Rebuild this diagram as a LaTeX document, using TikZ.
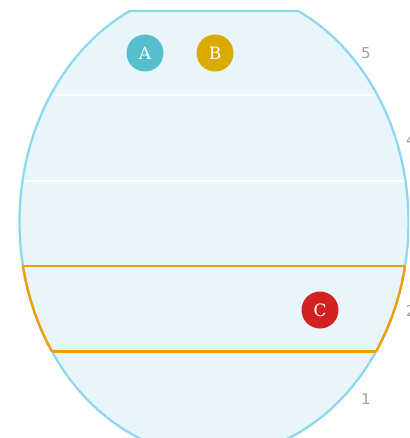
\documentclass[tikz,border=0pt]{standalone}
\usepackage{fontspec}
\setmainfont{DejaVu Serif}
\setsansfont{DejaVu Sans}
\usepackage{xcolor}
\usetikzlibrary{positioning}
\definecolor{shellfill}{HTML}{E8F6FB}
\definecolor{shellblue}{HTML}{8ED8EE}
\definecolor{hiorange}{HTML}{F59B00}
\definecolor{tokA}{HTML}{55BFCE}
\definecolor{tokB}{HTML}{DAAA00}
\definecolor{tokC}{HTML}{D32121}
\definecolor{levelgrey}{HTML}{A0A0A0}
\tikzset{
  shell/.style={draw=shellblue, line width=2.3pt},
  divider/.style={draw=white, line width=2.3pt},
  hilite/.style={draw=hiorange, line width=2.3pt},
  token/.style={circle, minimum size=37pt, inner sep=0pt, text=white,
    font=\fontsize{17}{17}\selectfont},
  level/.style={font=\sffamily\fontsize{15}{15}\selectfont, text=levelgrey},
}

\begin{document}
\begin{tikzpicture}[x=1pt, y=-1pt]
  \useasboundingbox (0,0) rectangle (409,438);
  \clip (0,0) rectangle (409,438);
  % body of the shell, flattened at the top
  \begin{scope}
    \clip (0,11) rectangle (430,446);
    \fill[shellfill] (214,222) ellipse [x radius=194.5, y radius=234];
  \end{scope}
  % band dividers
  \begin{scope}
    \clip (214,222) ellipse [x radius=194.5, y radius=234];
    \draw[divider] (0,95) -- (430,95);
    \draw[divider] (0,181) -- (430,181);
  \end{scope}
  % outline
  \begin{scope}
    \clip (0,11) rectangle (430,446);
    \draw[shell] (214,222) ellipse [x radius=194.5, y radius=234];
  \end{scope}
  \coordinate (topL) at (130,11);
  \coordinate (topR) at (298,11);
  \draw[shell] (topL) -- (topR);
  % highlighted band
  \begin{scope}
    \clip (0,266) rectangle (430,351.5);
    \draw[hilite] (214,222) ellipse [x radius=194.5, y radius=234];
  \end{scope}
  \begin{scope}
    \clip (214,222) ellipse [x radius=194.5, y radius=234];
    \draw[hilite] (0,266) -- (430,266);
    \draw[hilite] (0,351.5) -- (430,351.5);
  \end{scope}
  % tokens
  \node[token, fill=tokA] (A) at (145,53) {A};
  \node[token, fill=tokB] (B) at (215,53) {B};
  \node[token, fill=tokC] (C) at (320,310) {C};
  % level numbers
  \node[level] (L5) at (366,53) {5};
  \node[level] (L4) at (411,140) {4};
  \node[level] (L2) at (411,311) {2};
  \node[level] (L1) at (366,399) {1};
\end{tikzpicture}
\end{document}
